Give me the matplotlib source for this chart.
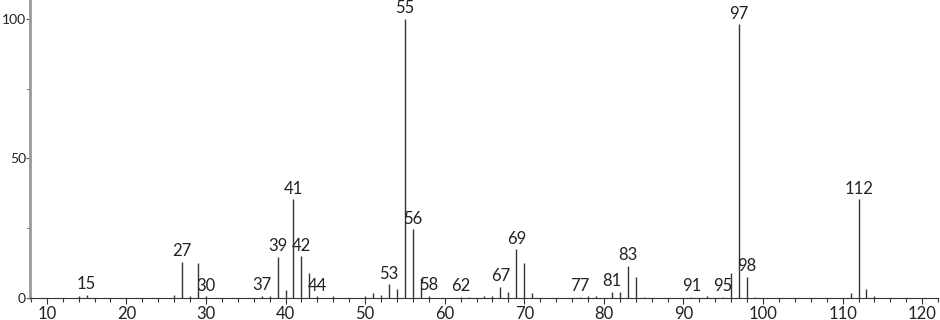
import matplotlib.pyplot as plt
from matplotlib.ticker import MultipleLocator

# m/z and relative intensity of each peak
mz = [14, 15, 26, 27, 28, 29, 30, 37, 38, 39, 40, 41, 42, 43, 44, 46,
      50, 51, 52, 53, 54, 55, 56, 57, 58, 62, 63, 65, 66, 67, 68, 69,
      70, 71, 77, 78, 79, 81, 82, 83, 84, 85, 91, 93, 95, 96, 97, 98,
      99, 111, 112, 113, 114]
intensity = [0.8, 1.0, 1.0, 12.8, 0.6, 12.5, 0.6, 0.8, 0.8, 14.7, 2.7, 35.3, 14.9, 8.9, 0.6, 0.8,
             0.8, 1.9, 1.0, 4.9, 3.2, 100.0, 24.6, 7.3, 0.8, 0.5, 0.5, 0.8, 0.8, 4.1, 2.2, 17.4,
             12.4, 1.7, 0.5, 0.7, 0.7, 2.3, 2.1, 11.5, 7.6, 0.5, 0.3, 0.7, 0.5, 9.0, 98.0, 7.6,
             0.5, 1.7, 35.3, 3.1, 0.8]
labeled = [15, 27, 30, 37, 39, 41, 42, 44, 53, 55, 56, 58, 62, 67, 69, 77, 81, 83,
           91, 95, 97, 98, 112]

plt.rcParams['font.family'] = ['Lato', 'DejaVu Sans']

fig = plt.figure(figsize=(9.4, 3.2), dpi=100)
ax = fig.add_axes([0.032, 0.06875, 0.966, 0.93125])

ax.vlines(mz, 0, intensity, color='#333333', linewidth=1.0)

for m in labeled:
    h = intensity[mz.index(m)]
    ax.annotate(str(m), (m, h), xytext=(0, 2), textcoords='offset points',
                ha='center', va='bottom', fontsize=12, color='#222222')

ax.set_xlim(7.9, 122)
ax.set_ylim(0, 106.7)
ax.xaxis.set_major_locator(MultipleLocator(10))
ax.xaxis.set_minor_locator(MultipleLocator(2))
ax.yaxis.set_major_locator(MultipleLocator(50))
ax.yaxis.set_minor_locator(MultipleLocator(25))

for s in ['top', 'right']:
    ax.spines[s].set_visible(False)
ax.spines['left'].set_color('#999999')
ax.spines['left'].set_linewidth(2.0)
ax.spines['bottom'].set_color('#333333')
ax.spines['bottom'].set_linewidth(0.8)

ax.tick_params(axis='x', which='major', length=4, width=0.8, color='#333333',
               labelsize=12, labelcolor='#222222', pad=1.5)
ax.tick_params(axis='x', which='minor', length=3, width=0.8, color='#333333')
ax.tick_params(axis='y', which='major', length=3, width=0.8, color='#555555',
               labelsize=10, labelcolor='#222222', pad=0)
ax.tick_params(axis='y', which='minor', length=2, width=0.8, color='#555555')

fig.savefig('out.png', dpi=100)
